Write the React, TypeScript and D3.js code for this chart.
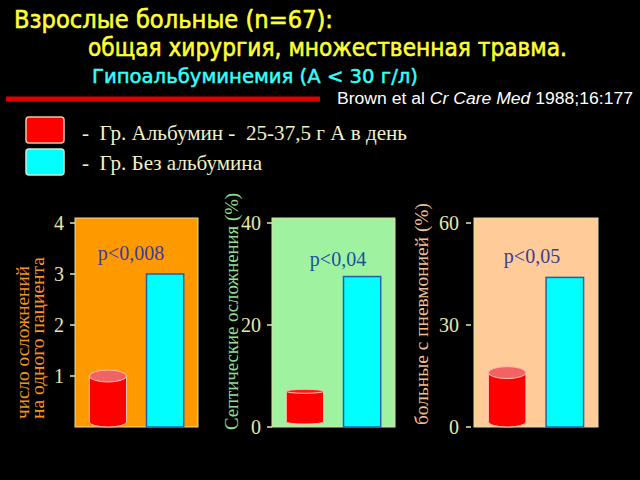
import React from "react";
import * as d3 from "d3";

const groups = ["Альбумин", "Без альбумина"];
const complicationsPerPatient = [1, 3];
const septicPct = [7, 29.5];
const pneumoniaPct = [16, 44];

const ticks1 = [1, 2, 3, 4];
const ticks2 = [0, 20, 40];
const ticks3 = [0, 30, 60];

const titleLine1 = "Взрослые больные (n=67):";
const titleLine2 = "общая хирургия, множественная травма.";
const titleLine3 = "Гипоальбуминемия (А < 30 г/л)";
const legendLabels = ["-  Гр. Альбумин -  25-37,5 г А в день", "-  Гр. Без альбумина"];

const panels = [
  {
    values: complicationsPerPatient,
    max: 4,
    ticks: ticks1,
    x0: 75,
    x1: 198,
    bg: "#ff9900",
    p: "p<0,008",
    pColor: "#3c3ca0",
    pX: 131,
    pY: 260,
    labelLines: ["число осложнений", "на одного пациента"],
    labelColor: "#f7941d",
    labelX: [29, 44],
    labelY: 419,
    labelLen: [153, 162],
    labelSize: 19,
    tickRight: 64,
    tickGap: 0,
    cylRy: 6,
  },
  {
    values: septicPct,
    max: 40,
    ticks: ticks2,
    x0: 272,
    x1: 395,
    bg: "#9ff29f",
    p: "p<0,04",
    pColor: "#1a50a0",
    pX: 338,
    pY: 266,
    labelLines: ["Септические осложнения (%)"],
    labelColor: "#90e090",
    labelX: [238],
    labelY: 430,
    labelLen: [237],
    labelSize: 19,
    tickRight: 261,
    tickGap: 0,
    cylRy: 2,
  },
  {
    values: pneumoniaPct,
    max: 60,
    ticks: ticks3,
    x0: 474,
    x1: 598,
    bg: "#ffcc99",
    p: "p<0,05",
    pColor: "#3c3c94",
    pX: 532,
    pY: 263,
    labelLines: ["больные с пневмонией (%)"],
    labelColor: "#f2c08e",
    labelX: [428],
    labelY: 425,
    labelLen: [222],
    labelSize: 19,
    tickRight: 459,
    tickGap: 3,
    cylRy: 6,
  },
];

const serif = "'Liberation Serif', 'Times New Roman', serif";
const sans = "'DejaVu Sans', sans-serif";
const tickColor = "#e8e8a8";

function Panel({ cfg }: { cfg: (typeof panels)[number] }) {
  const y = d3.scaleLinear().domain([0, cfg.max]).range([427, 223]);
  const x = d3
    .scaleBand<string>()
    .domain(groups)
    .range([cfg.x0, cfg.x1])
    .paddingInner(0.35)
    .paddingOuter(0.25);
  const bw = x.bandwidth();
  const red = cfg.values[0];
  const cyan = cfg.values[1];
  const rx = x(groups[0])!;
  const cx = x(groups[1])!;
  const ry = cfg.cylRy;
  const topY = y(red);
  const botY = y(0) - 5;
  return (
    <g>
      <rect
        x={cfg.x0}
        y={218}
        width={cfg.x1 - cfg.x0}
        height={y(0) - 218}
        fill={cfg.bg}
        stroke="#e0e0a0"
        strokeWidth={1}
      />
      {cfg.ticks.map((t) => (
        <g key={t}>
          <line
            x1={cfg.x0 - cfg.tickGap - 5}
            x2={cfg.x0 - cfg.tickGap}
            y1={y(t)}
            y2={y(t)}
            stroke={tickColor}
            strokeWidth={1.5}
          />
          <text
            x={cfg.tickRight}
            y={y(t) + 6.5}
            textAnchor="end"
            fill={tickColor}
            fontFamily={serif}
            fontSize={20}
          >
            {t}
          </text>
        </g>
      ))}
      <path
        d={`M${rx},${topY} L${rx},${botY} A${bw / 2},${Math.max(ry - 1, 2)} 0 0 0 ${rx + bw},${botY} L${rx + bw},${topY} Z`}
        fill="#ff0000"
        stroke="#ffc0b0"
        strokeWidth={1}
      />
      <ellipse
        cx={rx + bw / 2}
        cy={topY}
        rx={bw / 2}
        ry={ry}
        fill={ry > 3 ? "#f26464" : "#ff1a1a"}
        stroke="#ffc0b0"
        strokeWidth={1}
      />
      <rect
        x={cx}
        y={y(cyan)}
        width={bw}
        height={y(0) - y(cyan)}
        fill="#00ffff"
        stroke="#2060a8"
        strokeWidth={1.5}
      />
      <text
        x={cfg.pX}
        y={cfg.pY}
        textAnchor="middle"
        fill={cfg.pColor}
        fontFamily={serif}
        fontSize={20}
      >
        {cfg.p}
      </text>
      {cfg.labelLines.map((l, i) => (
        <text
          key={i}
          transform={`translate(${cfg.labelX[i]},${cfg.labelY}) rotate(-90)`}
          textAnchor="start"
          fill={cfg.labelColor}
          fontFamily={serif}
          fontSize={cfg.labelSize}
          textLength={cfg.labelLen[i]}
          lengthAdjust="spacingAndGlyphs"
        >
          {l}
        </text>
      ))}
    </g>
  );
}

export default function App() {
  return (
    <svg
      width={640}
      height={480}
      style={{ position: "absolute", left: 0, top: 0, display: "block", background: "#000" }}
    >
      <rect x={0} y={0} width={640} height={480} fill="#000" />
      <g strokeLinejoin="round">
        <text
          x={14}
          y={28}
          fill="#ffff33"
          stroke="#ffff33"
          strokeWidth={0.6}
          fontFamily={sans}
          fontSize={24}
          textLength={319}
          lengthAdjust="spacingAndGlyphs"
        >
          {titleLine1}
        </text>
        <text
          x={88}
          y={56}
          fill="#ffff33"
          stroke="#ffff33"
          strokeWidth={0.6}
          fontFamily={sans}
          fontSize={24}
          textLength={479}
          lengthAdjust="spacingAndGlyphs"
        >
          {titleLine2}
        </text>
        <text
          x={92}
          y={83}
          fill="#33ffff"
          stroke="#33ffff"
          strokeWidth={0.5}
          fontFamily={sans}
          fontSize={20}
          textLength={326}
          lengthAdjust="spacingAndGlyphs"
        >
          {titleLine3}
        </text>
      </g>
      <line x1={6} x2={320} y1={99} y2={99} stroke="#e00000" strokeWidth={5} />
      <text
        x={337}
        y={104}
        fill="#ffffff"
        fontFamily="'Liberation Sans', Arial, sans-serif"
        fontSize={16}
        textLength={296}
        lengthAdjust="spacingAndGlyphs"
      >
        Brown et al <tspan fontStyle="italic">Cr Care Med</tspan> 1988;16:177
      </text>

      <rect x={26} y={117} width={38} height={26} rx={3} fill="#ff0000" stroke="#f0c8a0" strokeWidth={1.5} />
      <rect x={26} y={149} width={38} height={26} rx={3} fill="#00ffff" stroke="#c8f0d8" strokeWidth={1.5} />
      <text
        x={82}
        y={140}
        fill="#f2f2c4"
        fontFamily={serif}
        fontSize={21}
        style={{ whiteSpace: "pre" }}
        textLength={325}
        lengthAdjust="spacingAndGlyphs"
      >
        {legendLabels[0]}
      </text>
      <text
        x={82}
        y={170}
        fill="#f2f2c4"
        fontFamily={serif}
        fontSize={21}
        style={{ whiteSpace: "pre" }}
        textLength={180}
        lengthAdjust="spacingAndGlyphs"
      >
        {legendLabels[1]}
      </text>

      {panels.map((p, i) => (
        <Panel key={i} cfg={p} />
      ))}
    </svg>
  );
}
